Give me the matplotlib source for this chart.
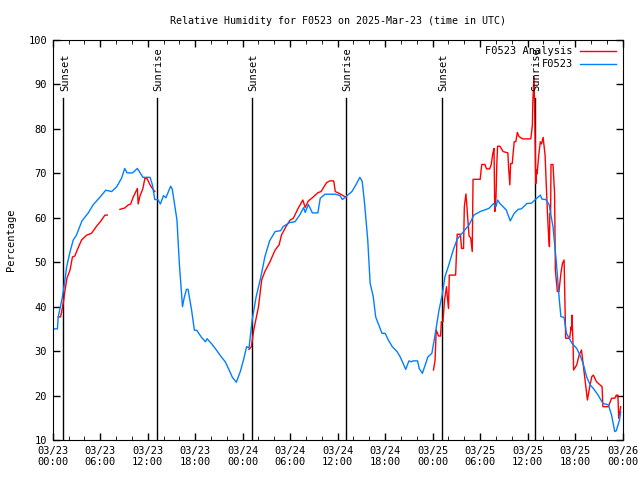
import numpy as np
import matplotlib
matplotlib.use("Agg")
import matplotlib.pyplot as plt

# hours since 03/23 00:00 UTC
obs_hours = [0, 0.6, 0.7, 1.2, 1.43, 1.77, 2.2, 2.6, 3.0, 3.7, 4.5, 5.1, 6.0, 6.7, 7.45,
             8.1, 8.7, 9.1, 9.4, 10.1, 10.7, 11.4, 12.3, 12.6, 12.9, 13.3, 13.6, 14.0,
             14.3, 14.9, 15.1, 15.7, 16.0, 16.4, 16.6, 16.9, 17.1, 17.55, 17.9, 18.2,
             18.8, 19.3, 19.5, 20.1, 20.7, 21.3, 21.8, 22.2, 22.7, 23.2, 23.7, 24.1,
             24.5, 24.8, 25.2, 25.7, 26.3, 26.8, 27.4, 28.1, 28.8, 29.1, 29.9, 30.6,
             31.2, 31.7, 31.9, 32.3, 32.8, 33.5, 33.8, 34.4, 35.7, 36.3, 36.6, 37.0,
             37.8, 38.3, 38.8, 39.1, 39.4, 39.8, 40.1, 40.5, 40.8, 41.6, 42.0, 42.4,
             42.9, 43.5, 43.9, 44.6, 45.0, 45.3, 45.5, 46.1, 46.3, 46.7, 47.0, 47.4,
             47.9, 48.3, 48.8, 49.2, 49.55, 49.97, 50.6, 51.1, 51.9, 52.6, 53.2, 54.0,
             55.1, 55.7, 56.0, 56.2, 56.5, 57.3, 57.8, 58.3, 58.8, 59.2, 59.9, 60.5,
             60.9, 61.6, 61.8, 62.3, 62.7, 63.2, 63.6, 64.0, 64.2, 64.6, 64.9, 65.6,
             66.2, 66.6, 67.0, 67.45, 67.9, 68.3, 68.9, 69.5, 70.2, 70.6, 71.0, 71.2,
             71.6, 71.75]
obs_rh = [35, 35, 37.7, 41.9, 44.5, 49, 52.4, 55, 56.1, 59.3, 61.1, 62.9, 64.7, 66.2, 65.9,
          67, 68.9, 71.1, 70.1, 70.1, 71.1, 69.1, 69.1, 67.4, 64.1, 64.1, 63.1, 65,
          64.5, 67.1, 66.5, 59.5, 49.7, 40, 41.9, 43.9, 43.9, 39.2, 34.7, 34.7,
          33.1, 32.1, 32.8, 31.6, 30.2, 28.7, 27.6, 26.1, 24.1, 23, 25.4, 28,
          31, 30.7, 37, 42.2, 46.7, 51.2, 54.8, 56.9, 57.1, 58, 58.9, 59.1,
          60.6, 62.3, 61.2, 63, 61.1, 61.1, 64.4, 65.3, 65.3, 65, 64.1, 64.7,
          65.9, 67.4, 69.1, 68.2, 63.2, 55, 45.3, 42.2, 37.7, 34, 34, 32.5,
          31, 29.9, 28.7, 25.9, 27.8, 27.6, 27.8, 27.8, 26.1, 25, 26.6, 28.7,
          29.5, 33.6, 39.2, 42.6, 46.7, 49, 52.75, 55.2, 56.9, 58.4, 60.6, 61.4,
          62.1, 63.2, 62.5, 64, 63.2, 61.75, 59.3, 61, 61.9, 62, 63.2, 63.3,
          64, 65.1, 64.2, 64.1, 63, 58, 50.5, 41.5, 37.75, 37.6, 34, 31.75,
          30.6, 29.1, 27.25, 24.2, 22.4, 21.6, 20.1, 18.25, 17.9, 15.6, 11.9, 12.1,
          14.5, 16.4]

nan = np.nan
ana_hours = [0.7, 1.0, 1.2, 1.4, 1.5, 1.8, 2.2, 2.5, 2.8, 3.1, 3.65, 4.3, 4.9, 5.5, 6.1, 6.6, 6.9, 7.5,
             8.5, 9.1, 9.55, 9.85, 10.2, 10.7, 10.8, 11.0, 11.4, 11.65, 11.9, 12.3, 12.6, 12.9, 18.0,
             24.8, 25.1, 25.4, 26.0, 26.4, 26.8, 27.45, 28.1, 28.6, 28.9, 29.5, 30.0, 30.4, 31.0,
             31.6, 31.9, 32.3, 32.8, 33.5, 33.9, 34.6, 35.0, 35.5, 35.7, 36.3, 36.9, 37.1, 42.0,
             48.1, 48.3, 48.45, 48.75, 49.0, 49.1, 49.3, 49.5, 49.75, 49.85, 50.0, 50.1, 50.6,
             50.9, 51.0, 51.1, 51.5, 51.65, 51.9, 52.0, 52.2, 52.3, 52.4, 52.6, 52.8, 53.0, 53.1,
             54.0, 54.2, 54.6, 54.8, 55.2, 55.4, 55.6, 55.75, 55.85, 56.0, 56.1, 56.2, 56.5,
             56.9, 57.5, 57.6, 57.75, 57.85, 58.05, 58.3, 58.5, 58.7, 58.9, 59.35, 60.4, 60.6,
             60.65, 60.8, 60.9, 61.0, 61.05, 61.1, 61.2, 61.4, 61.6, 61.75, 61.95, 62.2, 62.4,
             62.5, 62.65, 62.75, 62.8, 62.9, 62.95, 63.2, 63.4, 63.5, 63.75, 63.95, 64.2, 64.4,
             64.6, 64.7, 64.8, 65.3, 65.5, 65.55, 65.6, 65.75, 65.8, 66.2, 66.5, 66.8, 67.0,
             67.3, 67.55, 67.8, 68.1, 68.3, 68.7, 69.4, 69.5, 70.2, 70.6, 71.0, 71.2, 71.4,
             71.5, 71.75]
ana_rh = [37.7, 37.7, 39.5, 41.5, 43, 46.4, 48.3, 51.2, 51.4, 52.75, 55, 56.1, 56.5, 58, 59.3, 60.6, 60.6, nan,
          61.9, 62.2, 62.9, 63.1, 64.75, 66.6, 63.1, 64.75, 66.6, 68.9, 68.9, 67.4, 66.6, 65.9, nan,
          30.4, 31, 34.75, 40, 46, 47.9, 50.1, 52.75, 53.9, 56.1, 58.1, 59.5, 59.9, 62.1,
          64, 62.3, 63.8, 64.5, 65.65, 65.9, 67.9, 68.3, 68.3, 65.9, 65.4, 64.75, 64.5, nan,
          25.75, 27.9, 34.75, 33.4, 33.4, 36.6, 36.6, 41.5, 44.5, 42.3, 39.6, 47.1, 47.1,
          47.1, 51.6, 56.3, 56.3, 53.1, 53.1, 62.5, 65.35, 63.25, 60.6, 55.9, 55.5, 52.4, 68.65,
          68.65, 72, 72, 71, 71, 72, 74.5, 75.6, 61.4, 64.7, 71.9, 76.1, 76.1,
          74.9, 74.6, 71.1, 67.4, 72.2, 72.2, 77.1, 77.1, 79.2, 78.3, 77.75, 77.75, 80.9,
          86.1, 91.75, 82.9, 70.4, 67.75, 70.75, 69.9, 74.1, 77.1, 76.6, 78.1, 74.1, 65.5,
          61, 55.75, 53.5, 61, 61, 72, 72, 65.5, 48.25, 43.4, 43.4, 47.5, 49.75,
          50.5, 41.9, 32.9, 32.9, 35.5, 34.8, 38.1, 30.6, 25.75, 26.9, 29.1, 30.25, 27.25,
          22.75, 19, 21.6, 24.25, 24.6, 23.1, 22, 17.5, 17.5, 19.4, 19.4, 20.1, 20.1,
          14.9, 17.5]

sun_hours = [1.34, 13.13, 25.2, 37.05, 49.2, 60.9]
sun_labels = ["Sunset", "Sunrise", "Sunset", "Sunrise", "Sunset", "Sunrise"]

tick_hours = list(range(0, 73, 6))
tick_labels = ["03/23\n00:00", "03/23\n06:00", "03/23\n12:00", "03/23\n18:00",
               "03/24\n00:00", "03/24\n06:00", "03/24\n12:00", "03/24\n18:00",
               "03/25\n00:00", "03/25\n06:00", "03/25\n12:00", "03/25\n18:00",
               "03/26\n00:00"]

plt.rcParams['font.family'] = ['DejaVu Sans Mono']
plt.rcParams['font.size'] = 7.5

fig = plt.figure(figsize=(6.4, 4.8), dpi=100)
ax = fig.add_axes([0.0823, 0.0833, 0.8906, 0.8334])

for h, lab in zip(sun_hours, sun_labels):
    ax.plot([h, h], [10, 87], color='black', lw=1)
    ax.text(h + 0.2, 88.5, lab, rotation=90, ha='center', va='bottom')

ax.plot(ana_hours, ana_rh, color='#ff0000', lw=1, label='F0523 Analysis')
ax.plot(obs_hours, obs_rh, color='#0080ff', lw=1, label='F0523')

ax.set_xlim(0, 72)
ax.set_ylim(10, 100)
ax.set_xticks(tick_hours)
ax.set_xticklabels(tick_labels)
ax.set_xticks(range(0, 73, 2), minor=True)
ax.set_yticks(range(10, 101, 10))
ax.tick_params(direction='in', top=True, right=True, length=5, width=1, pad=4)
ax.tick_params(which='minor', direction='in', top=True, length=3)
ax.set_ylabel('Percentage')
ax.yaxis.set_label_coords(-0.064, 0.5)
ax.set_title('Relative Humidity for F0523 on 2025-Mar-23 (time in UTC)', fontsize=7.2, pad=11.5)

leg = ax.legend(loc='upper right', frameon=False, markerfirst=False, handlelength=3.5,
                borderaxespad=0.2, labelspacing=0.3, handletextpad=0.7)

fig.savefig('out.png', dpi=100)
